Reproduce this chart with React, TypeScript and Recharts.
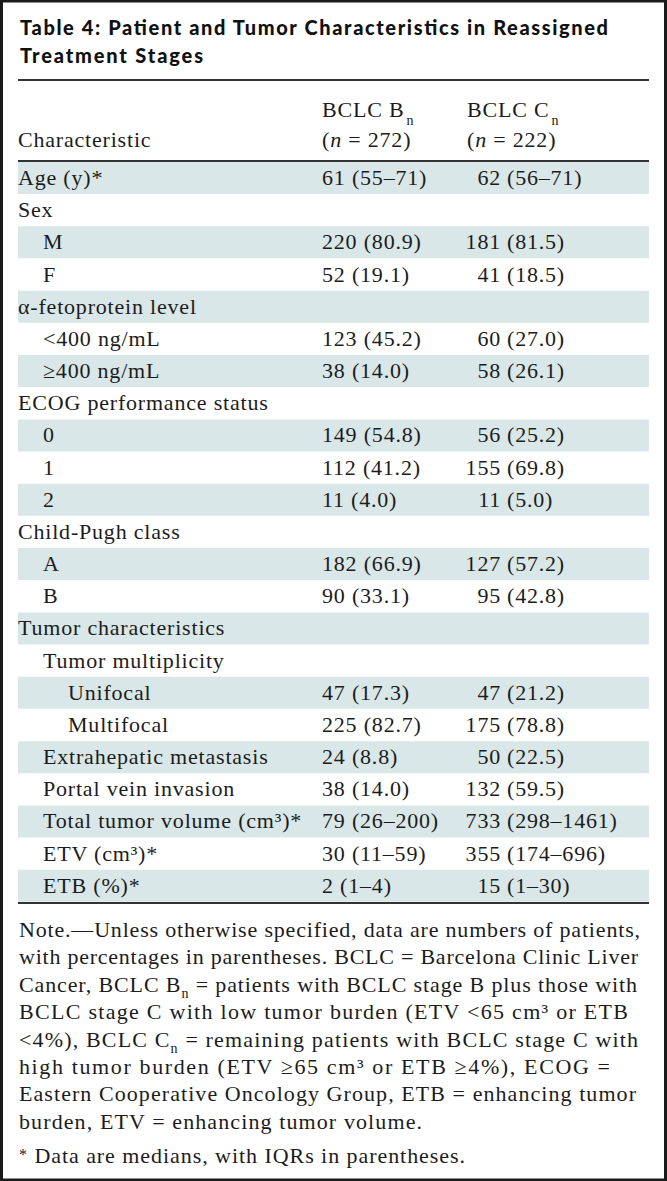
import { BarChart, Bar, XAxis, YAxis, Cell, LabelList } from 'recharts'

// table rows, top to bottom
const ROW_LABELS = [
  'Age (y)*',
  'Sex',
  'M',
  'F',
  'α-fetoprotein level',
  '<400 ng/mL',
  '≥400 ng/mL',
  'ECOG performance status',
  '0',
  '1',
  '2',
  'Child-Pugh class',
  'A',
  'B',
  'Tumor characteristics',
  'Tumor multiplicity',
  'Unifocal',
  'Multifocal',
  'Extrahepatic metastasis',
  'Portal vein invasion',
  'Total tumor volume (cm³)*',
  'ETV (cm³)*',
  'ETB (%)*',
]

const ROW_LEVELS = [0, 0, 1, 1, 0, 1, 1, 0, 1, 1, 1, 0, 1, 1, 0, 1, 2, 2, 1, 1, 1, 1, 1]

const BCLC_B = [
  '61 (55–71)', '', '220 (80.9)', '52 (19.1)', '', '123 (45.2)', '38 (14.0)', '',
  '149 (54.8)', '112 (41.2)', '11 (4.0)', '', '182 (66.9)', '90 (33.1)', '', '',
  '47 (17.3)', '225 (82.7)', '24 (8.8)', '38 (14.0)', '79 (26–200)', '30 (11–59)', '2 (1–4)',
]

const BCLC_C = [
  '62 (56–71)', '', '181 (81.5)', '41 (18.5)', '', '60 (27.0)', '58 (26.1)', '',
  '56 (25.2)', '155 (69.8)', '11 (5.0)', '', '127 (57.2)', '95 (42.8)', '', '',
  '47 (21.2)', '175 (78.8)', '50 (22.5)', '132 (59.5)', '733 (298–1461)', '355 (174–696)', '15 (1–30)',
]

const N_B = 272
const N_C = 222

const NOTE_LINES = [
  'Note.—Unless otherwise specified, data are numbers of patients,',
  'with percentages in parentheses. BCLC = Barcelona Clinic Liver',
  'Cancer, BCLC B_n = patients with BCLC stage B plus those with',
  'BCLC stage C with low tumor burden (ETV <65 cm³ or ETB',
  '<4%), BCLC C_n = remaining patients with BCLC stage C with',
  'high tumor burden (ETV ≥65 cm³ or ETB ≥4%), ECOG =',
  'Eastern Cooperative Oncology Group, ETB = enhancing tumor',
  'burden, ETV = enhancing tumor volume.',
]
const NOTE_ENDS = [640, 638, 637, 628, 638, 610, 636, 422]
const FOOTNOTE = 'Data are medians, with IQRs in parentheses.'

const SERIF = '"Liberation Serif", "Times New Roman", serif'
const SANS = 'Lato, "DejaVu Sans", sans-serif'
const INK = '#1c1c1c'
const SHADE = '#d9e7e8'
const RULE = '#333'

const W = 667
const H = 1181
const LEFT = 18
const RIGHT = 649
const ROWS_TOP = 162
const ROWS_BOTTOM = 902
const COL_B_X = 322
const COL_C_NUM_END = 501
const INDENT = [0, 25, 50]

const rows = ROW_LABELS.map((label, i) => ({
  label,
  level: ROW_LEVELS[i],
  b: BCLC_B[i],
  c: BCLC_C[i],
  shade: 1,
}))

const textStyle = { fontFamily: SERIF, fontSize: 22, letterSpacing: 0.8, fill: INK }

function RowLabel(props: any) {
  const { y, height, value } = props
  const row = rows.find((r) => r.label === value)
  const level = row ? row.level : 0
  return (
    <text x={LEFT + INDENT[level]} y={y + height / 2 + 7} {...textStyle}>
      {value}
    </text>
  )
}

function ColB(props: any) {
  const { y, height, value } = props
  if (!value) return null
  return (
    <text x={COL_B_X} y={y + height / 2 + 7} {...textStyle}>
      {value}
    </text>
  )
}

function ColC(props: any) {
  const { y, height, value } = props
  if (!value) return null
  const s = String(value)
  const k = s.indexOf(' ')
  const num = s.slice(0, k)
  const rest = s.slice(k + 1)
  const by = y + height / 2 + 7
  return (
    <g>
      <text x={COL_C_NUM_END} y={by} textAnchor="end" {...textStyle}>
        {num}
      </text>
      <text x={COL_C_NUM_END + 6} y={by} {...textStyle}>
        {rest}
      </text>
    </g>
  )
}

function NoteLine({ text, y, end }: { text: string; y: number; end: number }) {
  const parts = text.split(/_n/)
  return (
    <text
      x={LEFT + 1}
      y={y}
      fontFamily={SERIF}
      fontSize={22}
      fill={INK}
      textLength={end - LEFT - 1}
      lengthAdjust="spacing"
    >
      {parts.map((p, i) => (
        <tspan key={i}>
          {p}
          {i < parts.length - 1 && (
            <tspan dy={6} fontSize={14}>
              n
            </tspan>
          )}
          {i < parts.length - 1 && <tspan dy={-6}> </tspan>}
        </tspan>
      ))}
    </text>
  )
}

export default function App() {
  return (
    <div style={{ position: 'absolute', left: 0, top: 0, width: W, height: H, background: '#fff' }}>
      <div style={{ position: 'absolute', left: 0, top: ROWS_TOP }}>
        <BarChart
          width={W}
          height={ROWS_BOTTOM - ROWS_TOP}
          data={rows}
          layout="vertical"
          margin={{ top: 0, right: W - RIGHT, bottom: 0, left: LEFT }}
          barCategoryGap={0}
        >
          <XAxis type="number" domain={[0, 1]} hide />
          <YAxis type="category" dataKey="label" width={0} hide />
          <Bar dataKey="shade" isAnimationActive={false}>
            {rows.map((r, i) => (
              <Cell key={r.label} fill={i % 2 === 0 ? SHADE : 'transparent'} />
            ))}
            <LabelList dataKey="label" content={<RowLabel />} />
            <LabelList dataKey="b" content={<ColB />} />
            <LabelList dataKey="c" content={<ColC />} />
          </Bar>
        </BarChart>
      </div>

      <svg
        width={W}
        height={H}
        style={{ position: 'absolute', left: 0, top: 0, pointerEvents: 'none' }}
      >
        <rect x={1.5} y={1} width={W - 3} height={H - 2} fill="none" stroke="#1a1a1a" strokeWidth={3} />

        <text x={20} y={35} fontFamily={SANS} fontWeight={900} fontSize={20} fill="#111" textLength={588} lengthAdjust="spacing">
          Table 4: Patient and Tumor Characteristics in Reassigned
        </text>
        <text x={20} y={63} fontFamily={SANS} fontWeight={900} fontSize={20} fill="#111" textLength={183} lengthAdjust="spacing">
          Treatment Stages
        </text>

        <line x1={LEFT} x2={RIGHT} y1={80} y2={80} stroke={RULE} strokeWidth={2} />

        <text x={LEFT} y={147} {...textStyle}>Characteristic</text>
        <text x={COL_B_X} y={117} {...textStyle}>
          BCLC B
          <tspan dx={2} dy={8} fontSize={14} letterSpacing={0}>n</tspan>
        </text>
        <text x={COL_B_X} y={147} {...textStyle}>
          (<tspan fontStyle="italic">n</tspan> = {N_B})
        </text>
        <text x={467} y={117} {...textStyle}>
          BCLC C
          <tspan dx={2} dy={8} fontSize={14} letterSpacing={0}>n</tspan>
        </text>
        <text x={467} y={147} {...textStyle}>
          (<tspan fontStyle="italic">n</tspan> = {N_C})
        </text>

        <line x1={LEFT} x2={RIGHT} y1={161} y2={161} stroke={RULE} strokeWidth={2} />
        <line x1={LEFT} x2={RIGHT} y1={903} y2={903} stroke={RULE} strokeWidth={2} />

        {NOTE_LINES.map((t, i) => (
          <NoteLine key={i} text={t} y={937 + i * 27.4} end={NOTE_ENDS[i]} />
        ))}
        <text x={LEFT + 1} y={1163} fontFamily={SERIF} fontSize={22} fill={INK} textLength={446} lengthAdjust="spacing">
          <tspan fontSize={16} dy={-3}>*</tspan>
          <tspan dy={3}> {FOOTNOTE}</tspan>
        </text>
      </svg>
    </div>
  )
}
